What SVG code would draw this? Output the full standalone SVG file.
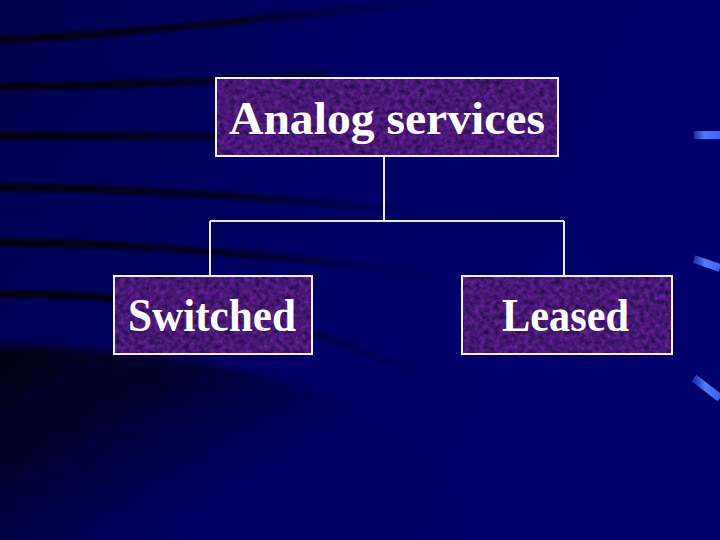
<svg xmlns="http://www.w3.org/2000/svg" width="720" height="540" viewBox="0 0 720 540">
  <defs>
    <linearGradient id="bg" x1="0" y1="0" x2="1" y2="0.3">
      <stop offset="0" stop-color="#000050"/>
      <stop offset="0.5" stop-color="#000066"/>
      <stop offset="1" stop-color="#00006c"/>
    </linearGradient>
    <linearGradient id="streak" gradientUnits="userSpaceOnUse" x1="0" y1="0" x2="440" y2="0">
      <stop offset="0" stop-color="#00000c" stop-opacity="1"/>
      <stop offset="0.55" stop-color="#000018" stop-opacity="0.8"/>
      <stop offset="1" stop-color="#000030" stop-opacity="0"/>
    </linearGradient>
    <linearGradient id="dark" gradientUnits="userSpaceOnUse" x1="0" y1="345" x2="120" y2="560">
      <stop offset="0" stop-color="#00000a" stop-opacity="0.95"/>
      <stop offset="0.5" stop-color="#000020" stop-opacity="0.7"/>
      <stop offset="1" stop-color="#000040" stop-opacity="0.1"/>
    </linearGradient>
    <linearGradient id="tick" gradientUnits="userSpaceOnUse" x1="692" y1="0" x2="720" y2="0">
      <stop offset="0" stop-color="#2a4ad8" stop-opacity="0.5"/>
      <stop offset="0.45" stop-color="#4a7cff"/>
      <stop offset="1" stop-color="#3a64f4"/>
    </linearGradient>
    <filter id="blur" filterUnits="userSpaceOnUse" x="-20" y="-20" width="760" height="580">
      <feGaussianBlur stdDeviation="1.5"/>
    </filter>
    <filter id="blur2" filterUnits="userSpaceOnUse" x="-40" y="300" width="560" height="280">
      <feGaussianBlur stdDeviation="4"/>
    </filter>
    <filter id="tex" x="0" y="0" width="1" height="1" color-interpolation-filters="sRGB">
      <feTurbulence type="fractalNoise" baseFrequency="0.2" numOctaves="3" seed="7" result="n"/>
      <feColorMatrix in="n" type="matrix" values="0.42 0 0 0 0.07  0.14 0 0 0 0.02  0.48 0 0 0 0.22  0 0 0 0 1" result="c"/>
      <feComposite in="c" in2="SourceGraphic" operator="in"/>
    </filter>
    <style>
      .box { fill: #4a1878; filter: url(#tex); }
      .frame { fill: none; stroke: #f4eef4; stroke-width: 2; }
      .lbl { font-family: "Liberation Serif", "Times New Roman", serif; font-weight: bold; font-size: 47px; fill: #ffffff; }
      .conn { fill: none; stroke: #ece8f0; stroke-width: 2; }
      .st { fill: none; stroke: url(#streak); stroke-width: 8; filter: url(#blur); }
      .tk { fill: none; stroke: url(#tick); stroke-width: 8; }
    </style>
  </defs>

  <g id="background">
    <rect width="720" height="540" fill="url(#bg)"/>
    <path class="st" d="M-10,40 C120,36 260,18 480,-4"/>
    <path class="st" d="M-10,87 C100,86 200,82 330,74"/>
    <path class="st" d="M-10,136 C100,136 200,136 320,137"/>
    <path class="st" d="M-10,187 C120,188 260,196 420,212"/>
    <path class="st" d="M-10,242 C140,243 300,256 470,280"/>
    <path class="st" d="M-10,294 C120,295 220,300 320,336 C380,356 430,378 490,400"/>
    <path d="M-30,345 C150,345 320,372 410,440 C445,470 470,510 480,560 L-30,560 Z" fill="url(#dark)" filter="url(#blur2)"/>
    <path class="tk" d="M694,135 L720,135"/>
    <path class="tk" d="M694,259 L720,268"/>
    <path class="tk" d="M694,378 L720,398"/>
  </g>

  <g id="connectors">
    <path class="conn" d="M384,156 L384,221"/>
    <path class="conn" d="M210,221 L564,221"/>
    <path class="conn" d="M210,221 L210,275"/>
    <path class="conn" d="M564,221 L564,275"/>
  </g>

  <g id="node-analog">
    <rect class="box" x="216" y="78" width="342" height="78"/>
    <rect class="frame" x="216" y="78" width="342" height="78"/>
    <text class="lbl" x="229" y="134" textLength="316" lengthAdjust="spacingAndGlyphs">Analog services</text>
  </g>

  <g id="node-switched">
    <rect class="box" x="114" y="276" width="198" height="78"/>
    <rect class="frame" x="114" y="276" width="198" height="78"/>
    <text class="lbl" x="128" y="331" textLength="168" lengthAdjust="spacingAndGlyphs">Switched</text>
  </g>

  <g id="node-leased">
    <rect class="box" x="462" y="276" width="210" height="78"/>
    <rect class="frame" x="462" y="276" width="210" height="78"/>
    <text class="lbl" x="502" y="331" textLength="127" lengthAdjust="spacingAndGlyphs">Leased</text>
  </g>
</svg>
